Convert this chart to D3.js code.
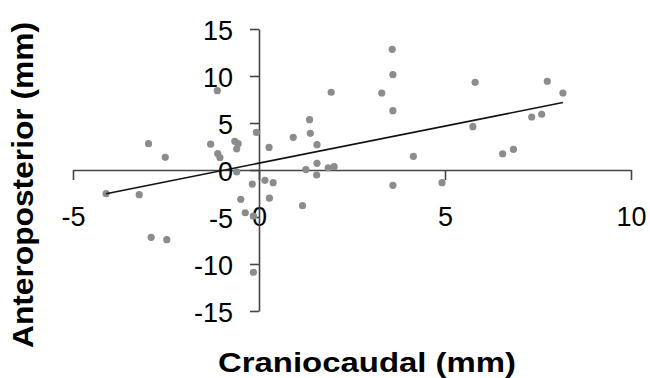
<!DOCTYPE html>
<html>
<head>
<meta charset="utf-8">
<style>
  body{
    margin: 0;
    background: white;
    font-family: 'Liberation Sans', Arial, sans-serif;
  }
</style>
</head>
<body>
<svg id='svgVis'></svg>

<script src="https://cdnjs.cloudflare.com/ajax/libs/d3/7.8.5/d3.min.js"></script>
<script>

// craniocaudal (x) vs anteroposterior (y), mm
var ccValues = [-1.12, -0.07, -2.97, -2.52, -1.30, -1.11, -1.05, -0.65, -0.56, -0.60,
  0.27, 3.58, 3.60, 1.94, 3.30, 3.60, 1.36, 1.38, 0.92, 1.56,
  5.81, 5.75, 4.15, 1.56, 1.26, 1.86, 2.02, 7.75, 8.17, 7.33,
  7.60, 6.55, 6.84, -4.11, -3.22, -2.90, -2.48, -0.60, -0.18, 0.16,
  0.38, -0.49, 0.28, -0.37, -0.15, -0.15, 1.55, 1.17, 3.60, 4.92];

var apValues = [8.44, 4.00, 2.80, 1.35, 2.75, 1.75, 1.33, 3.05, 2.80, 2.25,
  2.40, 12.84, 10.14, 8.27, 8.19, 6.31, 5.35, 3.90, 3.48, 2.69,
  9.33, 4.61, 1.46, 0.71, 0.05, 0.24, 0.35, 9.44, 8.19, 5.64,
  5.93, 1.73, 2.20, -2.52, -2.63, -7.16, -7.41, -0.20, -1.50, -1.10,
  -1.35, -3.12, -3.00, -4.55, -4.90, -10.88, -0.53, -3.80, -1.63, -1.35];

// linear fit, drawn between first and last x
var trendX = [-4.11, 8.17];
var trendY = [-2.52, 7.18];

var xTicks = [-5, 0, 5, 10];
var yTicks = [-15, -10, -5, 0, 5, 10, 15];

var width = 650,
    height = 378;

var svg = d3.select("#svgVis")
    .attr("width", width)
    .attr("height", height);

var x = d3.scaleLinear().domain([-5, 10]).range([73, 631]);
var y = d3.scaleLinear().domain([-15, 15]).range([311, 29]);

var points = ccValues.map(function(d, i) { return {x: d, y: apValues[i]}; });

// plain hyphen for negatives, like the original
var fmt = function(d) { return String(d); };

var xAxis = svg.append("g")
    .attr("transform", "translate(0," + y(0) + ")")
    .call(d3.axisBottom(x).tickValues(xTicks).tickFormat(fmt)
      .tickSize(10).tickSizeOuter(0).tickPadding(27));

var yAxis = svg.append("g")
    .attr("transform", "translate(" + x(0) + ",0)")
    .call(d3.axisLeft(y).tickValues(yTicks).tickFormat(fmt)
      .tickSize(9).tickSizeOuter(0).tickPadding(17));

[xAxis, yAxis].forEach(function(a) {
  a.selectAll("path, line")
    .attr("stroke", "#444")
    .attr("stroke-width", 1.6);
  a.selectAll("text")
    .attr("fill", "#000")
    .style("font-family", "'Liberation Sans', Arial, sans-serif")
    .style("font-size", "27px");
});

yAxis.selectAll("text").attr("dy", "0.38em");

svg.append("g")
  .selectAll("circle")
  .data(points)
  .enter()
  .append("circle")
  .attr("cx", function(d) { return x(d.x); })
  .attr("cy", function(d) { return y(d.y); })
  .attr("r", 3.6)
  .attr("fill", "#8c8c8c");

svg.append("line")
  .attr("x1", x(trendX[0]))
  .attr("y1", y(trendY[0]))
  .attr("x2", x(trendX[1]))
  .attr("y2", y(trendY[1]))
  .attr("stroke", "#111")
  .attr("stroke-width", 1.6);

svg.append("text")
  .attr("x", 218)
  .attr("y", 372)
  .attr("textLength", 298)
  .attr("lengthAdjust", "spacingAndGlyphs")
  .style("font-family", "'Liberation Sans', Arial, sans-serif")
  .style("font-weight", "bold")
  .style("font-size", "27px")
  .text("Craniocaudal (mm)");

svg.append("text")
  .attr("transform", "translate(33,185) rotate(-90)")
  .attr("text-anchor", "middle")
  .attr("textLength", 326)
  .attr("lengthAdjust", "spacingAndGlyphs")
  .style("font-family", "'Liberation Sans', Arial, sans-serif")
  .style("font-weight", "bold")
  .style("font-size", "29px")
  .text("Anteroposterior (mm)");

</script>
</body>
</html>
